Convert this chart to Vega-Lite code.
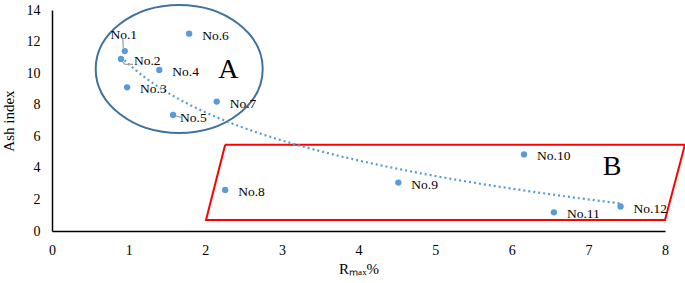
{
  "$schema": "https://vega.github.io/schema/vega-lite/v6.json",
  "width": 613,
  "height": 221,
  "autosize": "none",
  "padding": {"left": 52, "top": 10, "right": 20, "bottom": 52},
  "background": "white",
  "config": {
    "view": {"stroke": null},
    "axis": {
      "grid": false,
      "ticks": false,
      "labelFlush": false,
      "domainColor": "#000000",
      "domainWidth": 1.5,
      "labelFont": "Liberation Serif",
      "labelFontSize": 14,
      "labelColor": "#000000",
      "titleFont": "Liberation Serif",
      "titleFontSize": 15,
      "titleFontWeight": "normal",
      "titleColor": "#000000"
    }
  },
  "datasets": {
    "samples": [
      {"sample": "No.1", "Rmax": 0.95, "ash": 11.4},
      {"sample": "No.2", "Rmax": 0.90, "ash": 10.9},
      {"sample": "No.3", "Rmax": 0.98, "ash": 9.1},
      {"sample": "No.4", "Rmax": 1.40, "ash": 10.2},
      {"sample": "No.5", "Rmax": 1.58, "ash": 7.35},
      {"sample": "No.6", "Rmax": 1.79, "ash": 12.5},
      {"sample": "No.7", "Rmax": 2.15, "ash": 8.2},
      {"sample": "No.8", "Rmax": 2.26, "ash": 2.6},
      {"sample": "No.9", "Rmax": 4.52, "ash": 3.07},
      {"sample": "No.10", "Rmax": 6.16, "ash": 4.85},
      {"sample": "No.11", "Rmax": 6.55, "ash": 1.18},
      {"sample": "No.12", "Rmax": 7.42, "ash": 1.55}
    ],
    "regionB": [
      {"corner": 1, "Rmax": 2.26, "ash": 5.47},
      {"corner": 2, "Rmax": 8.26, "ash": 5.47},
      {"corner": 3, "Rmax": 8.0, "ash": 0.69},
      {"corner": 4, "Rmax": 2.01, "ash": 0.69},
      {"corner": 5, "Rmax": 2.26, "ash": 5.47}
    ],
    "regionA": [
      {"Rmax": 1.66, "ash": 10.26}
    ],
    "groups": [
      {"group": "A", "Rmax": 2.30, "ash": 10.2},
      {"group": "B", "Rmax": 7.31, "ash": 4.05}
    ]
  },
  "encoding": {
    "x": {
      "field": "Rmax", "type": "quantitative",
      "scale": {"domain": [0, 8], "nice": false},
      "axis": {"values": [0, 1, 2, 3, 4, 5, 6, 7, 8], "labelPadding": 12, "title": "Rₘₐₓ%", "titlePadding": 4}
    },
    "y": {
      "field": "ash", "type": "quantitative",
      "scale": {"domain": [0, 14], "nice": false},
      "axis": {"values": [0, 2, 4, 6, 8, 10, 12, 14], "labelPadding": 12, "title": "Ash index", "titlePadding": 10}
    }
  },
  "layer": [
    {
      "data": {"name": "regionA"},
      "mark": {
        "type": "point",
        "shape": "M -1 0 A 1 0.766 0 1 0 1 0 A 1 0.766 0 1 0 -1 0 Z",
        "size": 27889,
        "filled": false,
        "stroke": "#41719C",
        "strokeWidth": 2,
        "opacity": 1
      }
    },
    {
      "data": {"name": "regionB"},
      "mark": {"type": "line", "color": "#FF0000", "strokeWidth": 2, "clip": false},
      "encoding": {"order": {"field": "corner", "type": "quantitative"}}
    },
    {
      "data": {"name": "samples"},
      "transform": [{"regression": "ash", "on": "Rmax", "method": "log"}],
      "mark": {"type": "line", "color": "#5B9BD5", "strokeWidth": 2.2, "strokeDash": [2, 3]}
    },
    {
      "data": {"name": "samples"},
      "transform": [{"filter": "datum.sample === 'No.1'"}],
      "mark": {"type": "point", "shape": "M -0.15 -0.3 L -0.2 -1.2", "size": 400, "filled": false, "stroke": "#A5A5A5", "strokeWidth": 1.3, "opacity": 1}
    },
    {
      "data": {"name": "samples"},
      "transform": [{"filter": "datum.sample === 'No.2'"}],
      "mark": {"type": "point", "shape": "M 0.2 0.3 L 0.4 0.55 L 1.2 0.55", "size": 400, "filled": false, "stroke": "#A5A5A5", "strokeWidth": 1.3, "opacity": 1}
    },
    {
      "data": {"name": "samples"},
      "transform": [{"filter": "datum.sample === 'No.5'"}],
      "mark": {"type": "point", "shape": "M 0.3 0.1 L 0.8 0.25", "size": 400, "filled": false, "stroke": "#A5A5A5", "strokeWidth": 1.3, "opacity": 1}
    },
    {
      "data": {"name": "samples"},
      "mark": {"type": "circle", "color": "#5B9BD5", "size": 40, "opacity": 1}
    },
    {
      "data": {"name": "samples"},
      "transform": [{"filter": "datum.sample !== 'No.1' && datum.sample !== 'No.5'"}],
      "mark": {"type": "text", "align": "left", "baseline": "middle", "dx": 13, "dy": 2, "font": "Liberation Serif", "fontSize": 13.5, "color": "#000000"},
      "encoding": {"text": {"field": "sample"}}
    },
    {
      "data": {"name": "samples"},
      "transform": [{"filter": "datum.sample === 'No.5'"}],
      "mark": {"type": "text", "align": "left", "baseline": "middle", "dx": 7, "dy": 3, "font": "Liberation Serif", "fontSize": 13.5, "color": "#000000"},
      "encoding": {"text": {"field": "sample"}}
    },
    {
      "data": {"name": "samples"},
      "transform": [{"filter": "datum.sample === 'No.1'"}],
      "mark": {"type": "text", "align": "center", "baseline": "middle", "dx": -1, "dy": -16, "font": "Liberation Serif", "fontSize": 13.5, "color": "#000000"},
      "encoding": {"text": {"field": "sample"}}
    },
    {
      "data": {"name": "groups"},
      "mark": {"type": "text", "align": "center", "baseline": "middle", "font": "Liberation Serif", "fontSize": 28, "color": "#000000"},
      "encoding": {"text": {"field": "group"}}
    }
  ]
}
